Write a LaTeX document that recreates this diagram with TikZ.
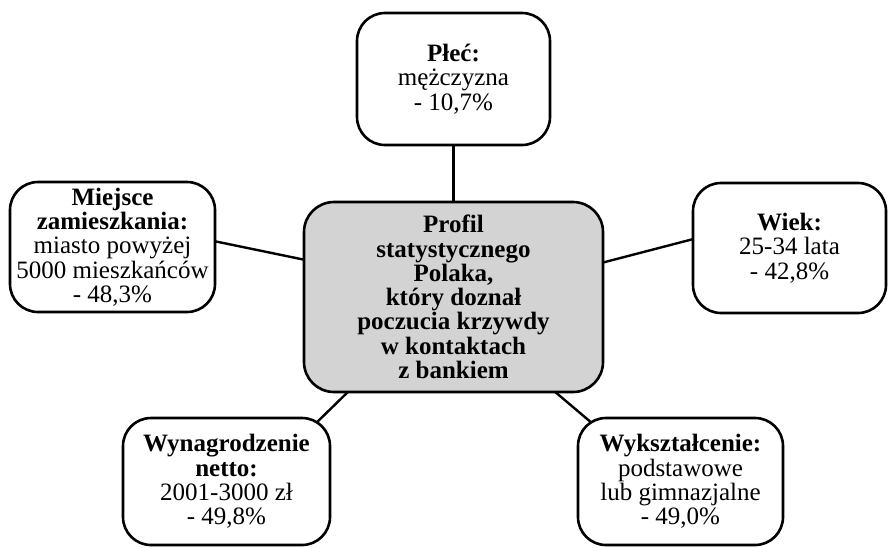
\documentclass[tikz,border=0pt]{standalone}
\usepackage{fontspec}
\setmainfont{Liberation Serif}
\usetikzlibrary{backgrounds}
\definecolor{boxgray}{RGB}{211,211,211}
\begin{document}
\begin{tikzpicture}[x=1pt,y=-1pt,
  box/.style={draw, line width=2.6pt, rounded corners=28pt, fill=white,
    align=center, font=\fontsize{25}{24.3}\selectfont, inner sep=0pt},
  link/.style={line width=2.4pt, shorten <=-10pt, shorten >=-10pt}]
\useasboundingbox (0,0) rectangle (888,547);

\node[box, fill=boxgray, rounded corners=30pt, minimum width=299pt, minimum height=190pt] (center) at (453.5,297)
  {\textbf{Profil}\\\textbf{statystycznego}\\\textbf{Polaka,}\\\textbf{który doznał}\\\textbf{poczucia krzywdy}\\\textbf{w kontaktach}\\\textbf{z bankiem}};

\node[box, minimum width=193pt, minimum height=132pt] (sex) at (453.5,79)
  {\textbf{Płeć:}\\mężczyzna\\- 10,7\%};

\node[box, minimum width=205pt, minimum height=130pt] (place) at (112.5,247)
  {\textbf{Miejsce}\\\textbf{zamieszkania:}\\miasto powyżej\\5000 mieszkańców\\- 48,3\%};

\node[box, minimum width=193pt, minimum height=130pt] (age) at (789.5,248)
  {\textbf{Wiek:}\\25-34 lata\\- 42,8\%};

\node[box, minimum width=207pt, minimum height=127pt] (pay) at (226.5,481.5)
  {\textbf{Wynagrodzenie}\\\textbf{netto:}\\2001-3000 zł\\- 49,8\%};

\node[box, minimum width=205pt, minimum height=127pt] (edu) at (680.5,481.5)
  {\textbf{Wykształcenie:}\\podstawowe\\lub gimnazjalne\\- 49,0\%};

\begin{scope}[on background layer]
  \draw[link] (sex.south) -- (center.north);
  \draw[link] (place.3.9) -- (center.166.8);
  \draw[link] (age.175.9) -- (center.13.9);
  \draw[link] (pay.34) -- (center.222.3);
  \draw[link] (edu.146) -- (center.317.4);
\end{scope}
\end{tikzpicture}
\end{document}
